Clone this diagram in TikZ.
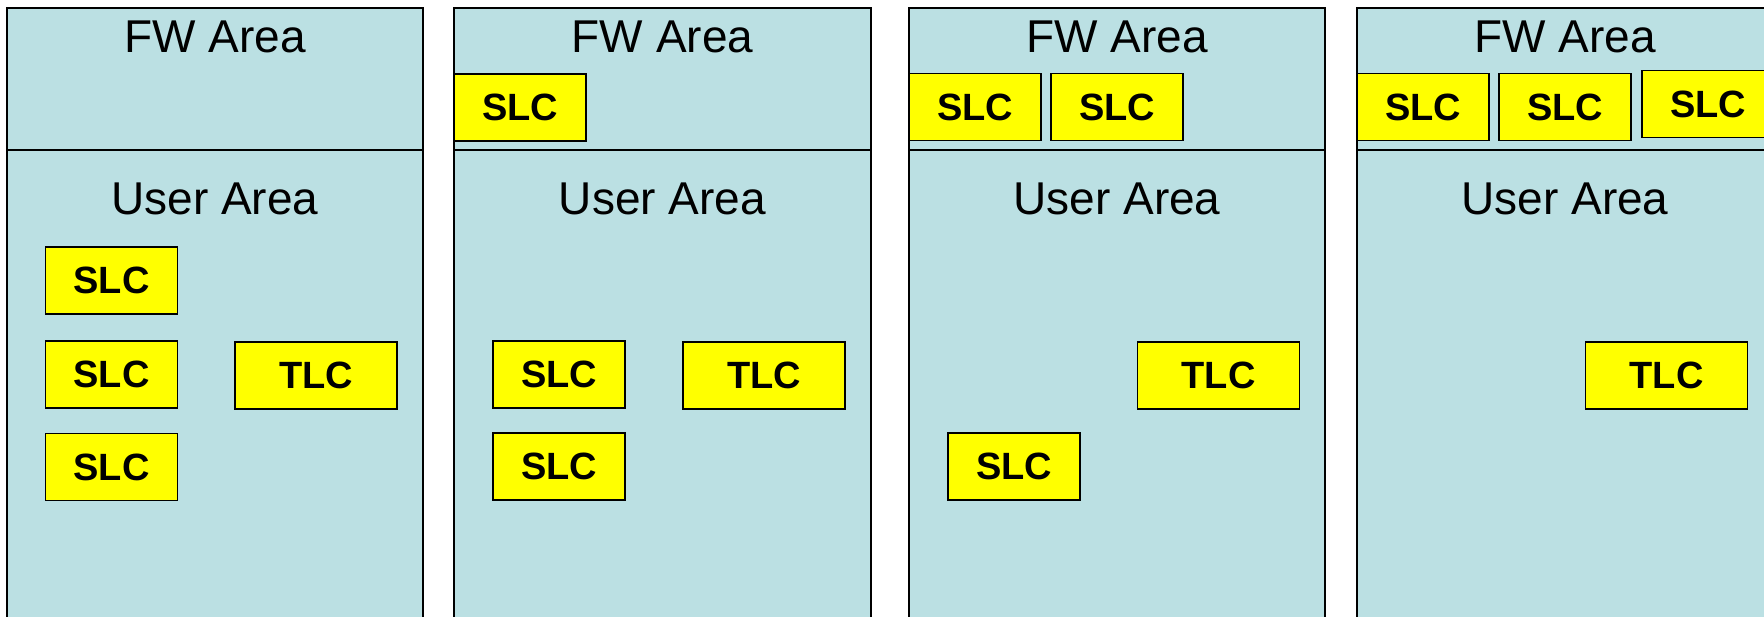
\documentclass[tikz,border=0pt]{standalone}
\usepackage{fontspec}
\setmainfont{Liberation Sans}
\definecolor{areafill}{RGB}{187,224,227}
\definecolor{cellfill}{RGB}{255,255,0}
\tikzset{
  x=1pt, y=-1pt,
  panel/.style={draw=black, line width=1.6pt, fill=areafill},
  divider/.style={draw=black, line width=1.2pt},
  arealabel/.style={anchor=base, inner sep=0pt, font=\fontsize{46}{50}\selectfont},
  cell/.style={draw=black, line width=1.6pt, fill=cellfill, inner sep=0pt,
    minimum height=67pt, font=\bfseries\fontsize{38}{40}\selectfont},
  slcbox/.style={cell, minimum width=132pt},
  tlcbox/.style={cell, minimum width=162pt},
}
\begin{document}
\begin{tikzpicture}
\useasboundingbox (0,0) rectangle (1764,617);
\clip (0,0) rectangle (1764,617);

% four memory layouts, each with a firmware area above a user area
\foreach \l/\r [count=\i] in {7/423, 454/871, 909/1325, 1357/1773} {
  \path[panel] (\l,8) rectangle (\r,640);
  \path[divider] (\l,150) -- (\r,150);
  \node[arealabel] (fw\i) at ({(\l+\r)/2},53) {FW Area};
  \node[arealabel] (user\i) at ({(\l+\r)/2},215) {User Area};
}

% layout 1: everything in the user area
\node[slcbox] (a1) at (111.5,280.5) {SLC};
\node[slcbox] (a2) at (111.5,374.5) {SLC};
\node[slcbox] (a3) at (111.5,467) {SLC};
\node[tlcbox] (at) at (316,375.5) {TLC};

% layout 2: one SLC block moved to the firmware area
\node[slcbox] (b1) at (520,107.5) {SLC};
\node[slcbox] (b2) at (559,374.5) {SLC};
\node[slcbox] (b3) at (559,466.5) {SLC};
\node[tlcbox] (bt) at (764,375.5) {TLC};

% layout 3: two SLC blocks in the firmware area
\node[slcbox] (c1) at (975,107) {SLC};
\node[slcbox] (c2) at (1117,107) {SLC};
\node[slcbox] (c3) at (1014,466.5) {SLC};
\node[tlcbox] (ct) at (1218.5,375.5) {TLC};

% layout 4: all SLC blocks in the firmware area
\node[slcbox] (d1) at (1423,107) {SLC};
\node[slcbox] (d2) at (1565,107) {SLC};
\node[slcbox] (d3) at (1708,104) {SLC};
\node[tlcbox] (dt) at (1666.5,375.5) {TLC};
\end{tikzpicture}
\end{document}
